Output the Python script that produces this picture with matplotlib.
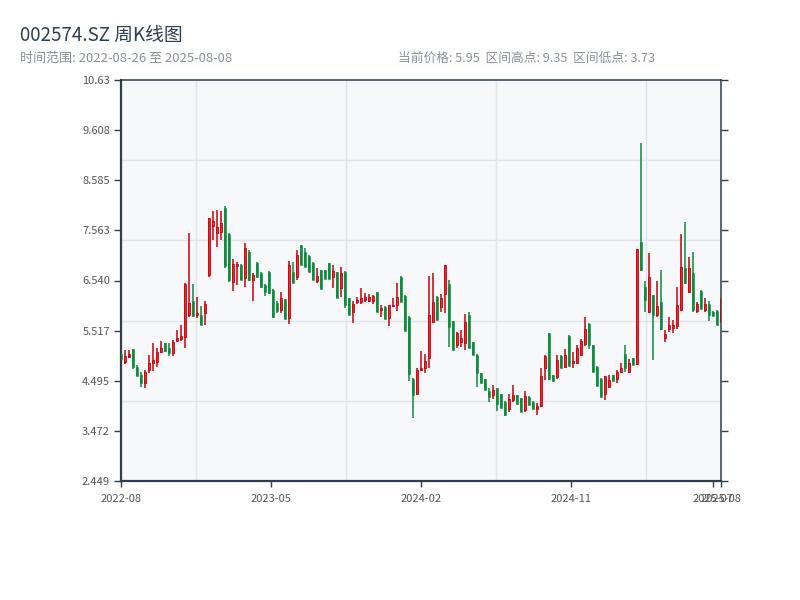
import matplotlib
matplotlib.use('Agg')
import matplotlib.pyplot as plt
import numpy as np
import pandas as pd
from matplotlib.ticker import FixedLocator

plt.rcParams['font.family'] = ['Noto Sans CJK SC', 'DejaVu Sans']

# weekly bars, weeks with no trading (holidays) are left out
all_weeks = pd.date_range('2022-08-26', '2025-08-08', freq='W-FRI')
closed_weeks = pd.to_datetime(['2022-10-07', '2023-01-27', '2023-10-06', '2024-02-16'])
dates = all_weeks.difference(closed_weeks)

opens = [5.04, 4.88, 4.98, 5.14, 4.78, 4.61, 4.45, 4.71, 4.86, 4.88,
         5.08, 5.26, 5.16, 5.06, 5.30, 5.34, 5.39, 5.84, 6.12, 5.84,
         5.84, 5.88, 6.65, 7.65, 7.51, 7.53, 8.02, 7.49, 6.51, 6.84,
         6.86, 6.59, 7.12, 6.55, 6.90, 6.69, 6.45, 6.71, 6.35, 6.08,
         5.94, 6.16, 5.78, 6.71, 6.61, 7.26, 7.12, 7.04, 6.90, 6.53,
         6.75, 6.75, 6.89, 6.62, 6.71, 6.39, 6.72, 6.18, 5.90, 6.11,
         6.11, 6.14, 6.12, 6.12, 6.30, 5.94, 6.00, 5.78, 6.01, 6.03,
         6.62, 6.23, 5.80, 4.53, 4.22, 4.72, 4.75, 4.95, 5.70, 6.21,
         5.99, 6.26, 6.46, 5.71, 5.22, 5.28, 5.26, 5.84, 5.28, 5.02,
         4.65, 4.53, 4.28, 4.20, 4.34, 4.22, 4.07, 3.92, 4.10, 4.20,
         4.14, 3.90, 4.17, 4.07, 3.91, 3.97, 4.75, 5.46, 4.61, 4.58,
         5.00, 4.78, 5.41, 4.85, 4.85, 5.02, 5.24, 5.66, 5.22, 4.78,
         4.54, 4.23, 4.37, 4.61, 4.54, 4.68, 5.05, 4.68, 4.95, 4.83,
         7.33, 6.41, 5.90, 6.24, 5.84, 6.11, 5.37, 5.56, 5.58, 5.62,
         5.94, 6.79, 6.30, 6.69, 5.92, 6.33, 5.94, 6.07, 5.90, 5.92,
         5.70]
highs = [5.06, 5.12, 5.12, 5.15, 4.82, 4.67, 4.71, 5.02, 5.26, 5.16,
         5.30, 5.27, 5.26, 5.33, 5.53, 5.63, 6.49, 7.51, 6.47, 6.20,
         6.02, 6.12, 7.81, 7.96, 7.98, 7.96, 8.06, 7.50, 6.98, 6.92,
         6.87, 7.30, 7.16, 6.69, 6.91, 6.71, 6.47, 6.73, 6.36, 6.12,
         6.31, 6.17, 6.94, 6.92, 7.16, 7.27, 7.20, 7.05, 6.91, 6.80,
         6.76, 6.76, 6.90, 6.86, 6.72, 6.81, 6.73, 6.19, 6.12, 6.21,
         6.38, 6.28, 6.26, 6.24, 6.31, 6.03, 6.01, 6.04, 6.19, 6.48,
         6.63, 6.24, 5.81, 4.55, 4.75, 5.10, 5.03, 6.64, 6.69, 6.22,
         6.26, 6.86, 6.55, 5.72, 5.48, 5.53, 5.85, 5.90, 5.29, 5.03,
         4.66, 4.54, 4.35, 4.41, 4.35, 4.23, 4.08, 4.22, 4.41, 4.21,
         4.15, 4.29, 4.18, 4.08, 4.05, 4.75, 5.02, 5.47, 4.62, 5.02,
         5.01, 5.14, 5.42, 5.09, 5.22, 5.34, 5.79, 5.67, 5.23, 4.79,
         4.55, 4.59, 4.61, 4.62, 4.71, 4.85, 5.22, 4.93, 4.96, 7.18,
         9.35, 6.52, 7.11, 6.25, 6.52, 6.75, 5.53, 5.80, 5.73, 6.41,
         7.48, 7.73, 7.01, 7.13, 6.11, 6.34, 6.19, 6.12, 5.91, 5.93,
         6.18]
lows = [4.92, 4.84, 4.96, 4.74, 4.59, 4.37, 4.35, 4.65, 4.69, 4.77,
        5.06, 5.09, 5.00, 5.00, 5.28, 5.30, 5.16, 5.80, 5.80, 5.78,
        5.63, 5.63, 6.61, 7.37, 7.22, 7.37, 6.80, 6.51, 6.33, 6.45,
        6.55, 6.41, 6.53, 6.12, 6.59, 6.39, 6.22, 6.27, 5.78, 5.88,
        5.88, 5.76, 5.65, 6.49, 6.55, 6.86, 6.82, 6.71, 6.55, 6.49,
        6.37, 6.56, 6.58, 6.39, 6.18, 6.21, 5.97, 5.84, 5.68, 6.05,
        6.05, 6.11, 6.11, 6.06, 5.89, 5.80, 5.75, 5.62, 5.99, 5.92,
        6.11, 5.50, 4.48, 3.73, 4.20, 4.69, 4.65, 4.75, 5.67, 5.73,
        5.90, 5.87, 5.19, 5.12, 5.17, 5.19, 5.12, 5.16, 5.01, 4.36,
        4.44, 4.31, 4.07, 4.12, 3.88, 3.93, 3.78, 3.86, 4.07, 4.03,
        3.86, 3.86, 4.00, 3.92, 3.80, 3.95, 4.51, 4.51, 4.48, 4.54,
        4.75, 4.75, 4.80, 4.75, 4.84, 4.99, 5.20, 5.14, 4.68, 4.39,
        4.17, 4.10, 4.34, 4.48, 4.44, 4.66, 4.68, 4.66, 4.82, 4.82,
        6.73, 5.90, 5.87, 4.92, 5.80, 5.53, 5.28, 5.49, 5.46, 5.56,
        5.92, 6.46, 6.28, 5.90, 5.87, 5.96, 5.90, 5.71, 5.82, 5.64,
        5.67]
closes = [4.94, 5.00, 5.04, 4.77, 4.60, 4.45, 4.67, 4.86, 4.92, 5.08,
          5.16, 5.10, 5.06, 5.28, 5.36, 5.40, 6.47, 6.08, 5.82, 5.88,
          5.63, 6.06, 7.81, 7.75, 7.63, 7.71, 6.84, 6.55, 6.88, 6.88,
          6.55, 7.20, 6.55, 6.65, 6.61, 6.41, 6.31, 6.29, 5.80, 5.92,
          6.18, 5.76, 6.86, 6.49, 7.06, 6.86, 6.82, 6.71, 6.55, 6.63,
          6.37, 6.56, 6.58, 6.73, 6.18, 6.69, 6.04, 5.84, 6.07, 6.14,
          6.18, 6.21, 6.21, 6.23, 5.89, 5.98, 5.75, 6.03, 6.04, 6.21,
          6.11, 5.50, 4.63, 4.20, 4.71, 4.75, 4.90, 5.84, 6.11, 5.73,
          6.19, 6.86, 5.60, 5.12, 5.46, 5.36, 5.70, 5.16, 5.01, 4.65,
          4.44, 4.31, 4.17, 4.30, 4.03, 3.93, 3.80, 4.12, 4.20, 4.03,
          3.86, 4.19, 4.00, 3.92, 3.98, 4.59, 4.99, 4.54, 4.48, 4.92,
          4.75, 5.02, 4.80, 4.90, 5.16, 5.31, 5.56, 5.22, 4.68, 4.39,
          4.17, 4.59, 4.51, 4.48, 4.68, 4.75, 4.75, 4.85, 4.82, 7.18,
          6.75, 6.14, 6.62, 5.84, 6.01, 5.56, 5.44, 5.63, 5.63, 6.04,
          6.82, 6.48, 6.79, 5.94, 6.05, 5.96, 6.07, 5.84, 5.82, 5.64,
          5.95]

ytick_labels = ['2.449', '3.472', '4.495', '5.517', '6.540', '7.563', '8.585', '9.608', '10.63']
xtick_pos = [0, 37.5, 75, 112.5, 148, 150]
xtick_labels = ['2022-08', '2023-05', '2024-02', '2024-11', '2025-07', '2025-08']

UP_FACE = '#e8292e'
UP_EDGE = '#c8000a'
DOWN = '#0b8a3c'
DARK = '#2c3e50'

o = np.array(opens)
h = np.array(highs)
l = np.array(lows)
c = np.array(closes)
x = np.arange(len(o))
up = c >= o

fig = plt.figure(figsize=(8, 6), dpi=100)
ax = fig.add_axes([121 / 800, 1 - 481 / 600, 600 / 800, 401 / 600])
ax.set_facecolor('#f6f8fa')

# wicks
ax.vlines(x[up], l[up], h[up], color=UP_EDGE, lw=1.1, zorder=3)
ax.vlines(x[~up], l[~up], h[~up], color=DOWN, lw=1.1, zorder=3)
# bodies
ax.bar(x[up], c[up] - o[up], bottom=o[up], width=0.58,
       color=UP_FACE, edgecolor=UP_EDGE, linewidth=0.6, zorder=4)
ax.bar(x[~up], o[~up] - c[~up], bottom=c[~up], width=0.58,
       color=DOWN, edgecolor=DOWN, linewidth=0.4, zorder=4)

ymin, ymax = 2.449, 10.63
ax.set_xlim(0, len(o) - 1)
ax.set_ylim(ymin, ymax)

ax.set_yticks(np.linspace(ymin, ymax, 9))
ax.set_yticklabels(ytick_labels)
ax.set_xticks(xtick_pos)
ax.set_xticklabels(xtick_labels)

# grid is on its own even split, not on the ticks
ax.xaxis.set_minor_locator(FixedLocator(np.linspace(0, len(o) - 1, 9)[1:-1]))
ax.yaxis.set_minor_locator(FixedLocator(np.linspace(ymin, ymax, 6)[1:-1]))
ax.grid(which='minor', color='#e1e4e8', lw=1.0, zorder=0)
ax.grid(which='major', visible=False)
ax.set_axisbelow(True)

ax.tick_params(which='minor', length=0)
ax.tick_params(which='major', direction='out', length=4, width=1, color=DARK,
               labelsize=8, labelcolor='#555555', pad=3, right=True)
ax.tick_params(axis='y', which='major', length=5)
ax.tick_params(axis='x', which='major', pad=5)

for side in ['left', 'bottom']:
    ax.spines[side].set_color(DARK)
    ax.spines[side].set_linewidth(1.6)
for side in ['top', 'right']:
    ax.spines[side].set_color(DARK)
    ax.spines[side].set_linewidth(1.1)

fig.text(20 / 800, 1 - 35 / 600, '002574.SZ 周K线图', fontsize=13.5,
         color=DARK, va='center', ha='left')
fig.text(20 / 800, 1 - 58 / 600,
         '时间范围: %s 至 %s' % (dates[0].strftime('%Y-%m-%d'), dates[-1].strftime('%Y-%m-%d')),
         fontsize=9.4, color='#8a9099', va='center', ha='left')
fig.text(398 / 800, 1 - 58 / 600,
         '当前价格: %.2f  区间高点: %.2f  区间低点: %.2f' % (c[-1], h.max(), l.min()),
         fontsize=9.2, color='#8a9099', va='center', ha='left')

fig.savefig('out.png', dpi=100, facecolor='white')
